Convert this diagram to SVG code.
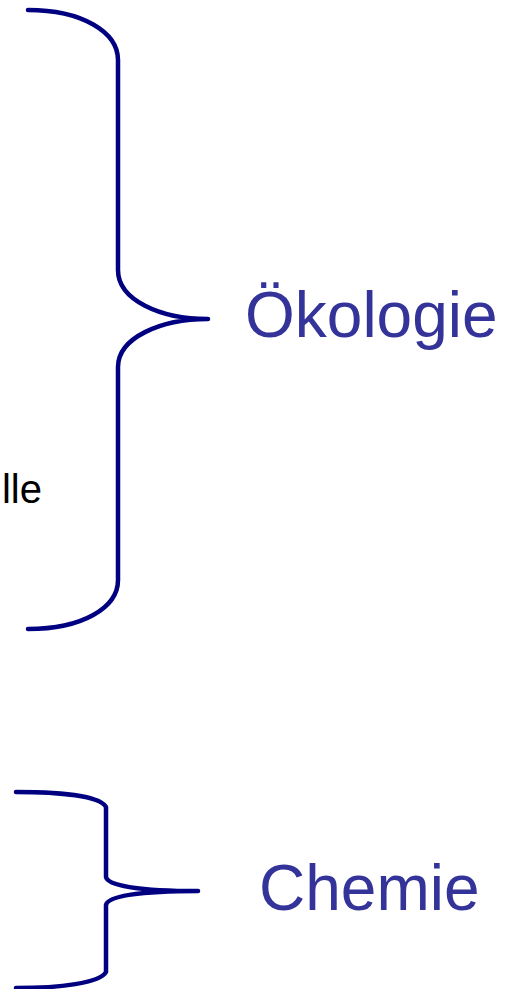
<svg xmlns="http://www.w3.org/2000/svg" width="510" height="989" viewBox="0 0 510 989">
  <style>
    .brace { fill: none; stroke: #000080; stroke-width: 4.5; stroke-linecap: round; stroke-linejoin: round; }
    .label { font-family: "Liberation Sans", Arial, sans-serif; font-size: 64px; fill: #333399; }
    .side { font-family: "Liberation Sans", Arial, sans-serif; font-size: 40px; fill: #000000; }
  </style>
  <rect width="510" height="989" fill="#ffffff"/>

  <g id="text-left">
    <text class="side" x="42" y="503" text-anchor="end">lle</text>
  </g>

  <g id="connectors">
    <!-- large brace grouping the ecology topics -->
    <path id="brace-oekologie" class="brace" d="M28,10 C82,10 118,32 118,60 L118,270 C118,300 160,319 208,319 C160,319 118,338 118,367 L118,580 C118,608 82,629 28,629"/>
    <!-- small brace grouping the chemistry topics -->
    <path id="brace-chemie" class="brace" d="M16,792 C60,792 100,796 106,807 L106,877 C108,886 140,891 198,891 C140,891 108,896 106,905 L106,972 C100,983 60,988 16,988"/>
  </g>

  <g id="node-oekologie">
    <text class="label" x="245" y="337">Ökologie</text>
  </g>
  <g id="node-chemie">
    <text class="label" x="259" y="910">Chemie</text>
  </g>
</svg>
